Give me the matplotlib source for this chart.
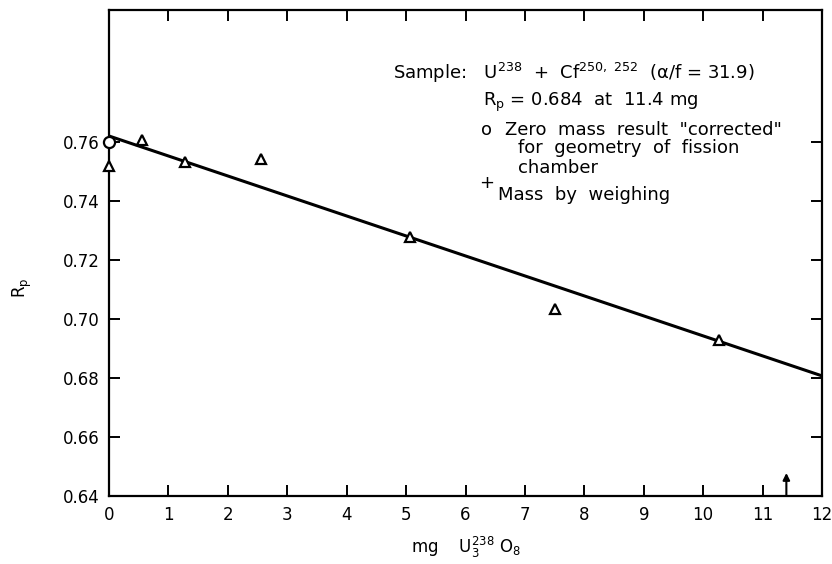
import numpy as np
from matplotlib import pyplot as plt

# data
mass_tri = [0.0, 0.55, 1.28, 2.56, 5.07, 7.51, 10.27]
rp_tri = [0.7519, 0.7606, 0.7533, 0.7541, 0.7279, 0.7033, 0.6929]
mass_circ = [0.0]
rp_circ = [0.760]
fit_x = [0.0, 12.0]
fit_y = [0.7620, 0.6807]
arrow_mass = 11.4
arrow_tip = 0.6478

xticks = list(range(0, 13))
yticks = [0.64, 0.66, 0.68, 0.70, 0.72, 0.74, 0.76]
ytick_labels = ["0.64", "0.66", "0.68", "0.70", "0.72", "0.74", "0.76"]

plt.rcParams['font.family'] = ['DejaVu Sans']
fig = plt.figure(figsize=(8.32, 5.64), dpi=100)
ax = fig.add_axes([0.131, 0.1206, 0.857, 0.8617])

ax.plot(fit_x, fit_y, color='black', lw=2.2, zorder=2)
ax.plot(mass_tri, rp_tri, linestyle='none', marker='^', ms=7, mfc='white',
        mec='black', mew=1.6, zorder=3, clip_on=False)
ax.plot(mass_circ, rp_circ, linestyle='none', marker='o', ms=8, mfc='white',
        mec='black', mew=1.6, zorder=4, clip_on=False)
ax.annotate('', xy=(arrow_mass, arrow_tip), xytext=(arrow_mass, 0.64),
            arrowprops=dict(arrowstyle='-|>', color='black', lw=1.5,
                            mutation_scale=10, shrinkA=0, shrinkB=0))

ax.set_xlim(0, 12)
ax.set_ylim(0.64, 0.8047)
ax.set_xticks(xticks)
ax.set_yticks(yticks)
ax.set_yticklabels(ytick_labels)
ax.tick_params(direction='in', length=8, width=1.4, top=True, right=True,
               labelsize=12, pad=7)
for s in ax.spines.values():
    s.set_linewidth(1.6)

ax.set_xlabel(r'mg    U$_3^{238}$ O$_8$', fontsize=12, labelpad=8)
fig.text(0.027, 0.49, r'R$_\mathrm{p}$', rotation=90, fontsize=12, ha='center', va='center')

fs = 13
ax.text(0.398, 0.870, r'Sample:   U$^{238}$  +  Cf$^{250,\ 252}$  (α/f = 31.9)',
        transform=ax.transAxes, fontsize=fs, va='center')
ax.text(0.525, 0.809, r'R$_\mathrm{p}$ = 0.684  at  11.4 mg', transform=ax.transAxes,
        fontsize=fs, va='center')
ax.text(0.530, 0.753, 'o', transform=ax.transAxes, fontsize=fs, va='center', ha='center')
ax.text(0.555, 0.753, 'Zero  mass  result  "corrected"', transform=ax.transAxes,
        fontsize=fs, va='center')
ax.text(0.574, 0.716, 'for  geometry  of  fission', transform=ax.transAxes,
        fontsize=fs, va='center')
ax.text(0.574, 0.675, 'chamber', transform=ax.transAxes, fontsize=fs, va='center')
ax.text(0.530, 0.644, '+', transform=ax.transAxes, fontsize=fs, va='center', ha='center')
ax.text(0.546, 0.619, 'Mass  by  weighing', transform=ax.transAxes, fontsize=fs, va='center')

plt.savefig('out.png', dpi=100)
